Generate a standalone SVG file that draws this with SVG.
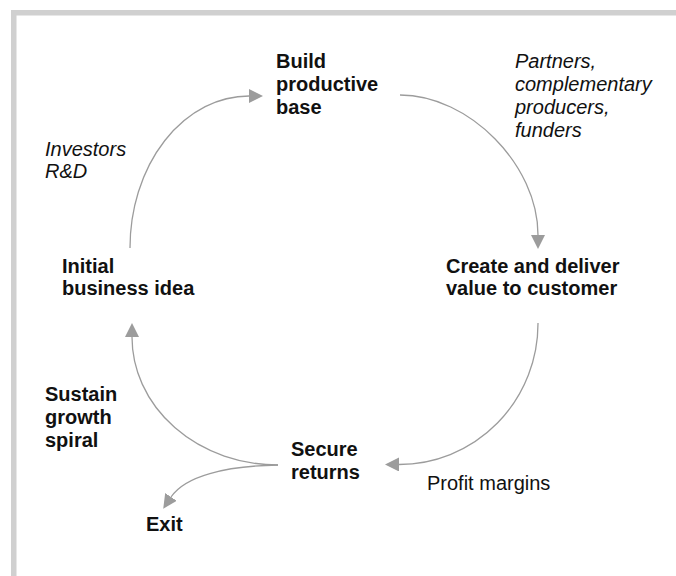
<svg xmlns="http://www.w3.org/2000/svg" width="676" height="576" viewBox="0 0 676 576">
  <defs>
    <marker id="arrow" markerUnits="userSpaceOnUse" markerWidth="14" markerHeight="14" refX="0" refY="6.5" orient="auto" viewBox="0 0 13 13">
      <path d="M0,0 L13,6.5 L0,13 Z" fill="#9c9c9c"/>
    </marker>
    <style>
      text { font-family: "Liberation Sans", Arial, sans-serif; font-size: 20px; fill: #111; }
      .b { font-weight: bold; }
      .i { font-style: italic; }
      .c { fill: none; stroke: #9c9c9c; stroke-width: 1.3; marker-end: url(#arrow); }
    </style>
  </defs>
  <rect width="676" height="576" fill="#fff"/>
  <path d="M11,10 H676 V15.5 H16.5 V576 H11 Z" fill="#d0d0d0"/>

  <g id="connectors">
    <path class="c" d="M130,248 A119,152 0 0 1 249,96"/>
    <path class="c" d="M400,95 C469,95 538,165 538,235"/>
    <path class="c" d="M538,323 A139,141 0 0 1 399,464.5"/>
    <path class="c" d="M278,465 A146,128 0 0 1 132,337"/>
    <path class="c" d="M278,465 C225,466 185,476 171,497"/>
  </g>

  <g id="build">
    <text class="b" x="276" y="68">Build<tspan x="276" dy="23">productive</tspan><tspan x="276" dy="23">base</tspan></text>
  </g>
  <g id="create">
    <text class="b" x="446" y="273">Create and deliver<tspan x="446" dy="22">value to customer</tspan></text>
  </g>
  <g id="secure">
    <text class="b" x="291" y="456">Secure<tspan x="291" dy="23">returns</tspan></text>
  </g>
  <g id="initial">
    <text class="b" x="62" y="273">Initial<tspan x="62" dy="22">business idea</tspan></text>
  </g>
  <g id="exit">
    <text class="b" x="146" y="531">Exit</text>
  </g>
  <g id="sustain">
    <text class="b" x="45" y="401">Sustain<tspan x="45" dy="23">growth</tspan><tspan x="45" dy="23">spiral</tspan></text>
  </g>
  <g id="partners">
    <text class="i" x="515" y="68">Partners,<tspan x="515" dy="23">complementary</tspan><tspan x="515" dy="23">producers,</tspan><tspan x="515" dy="23">funders</tspan></text>
  </g>
  <g id="investors">
    <text class="i" x="45" y="156">Investors<tspan x="45" dy="22">R&amp;D</tspan></text>
  </g>
  <g id="profit">
    <text x="427" y="490">Profit margins</text>
  </g>
</svg>
